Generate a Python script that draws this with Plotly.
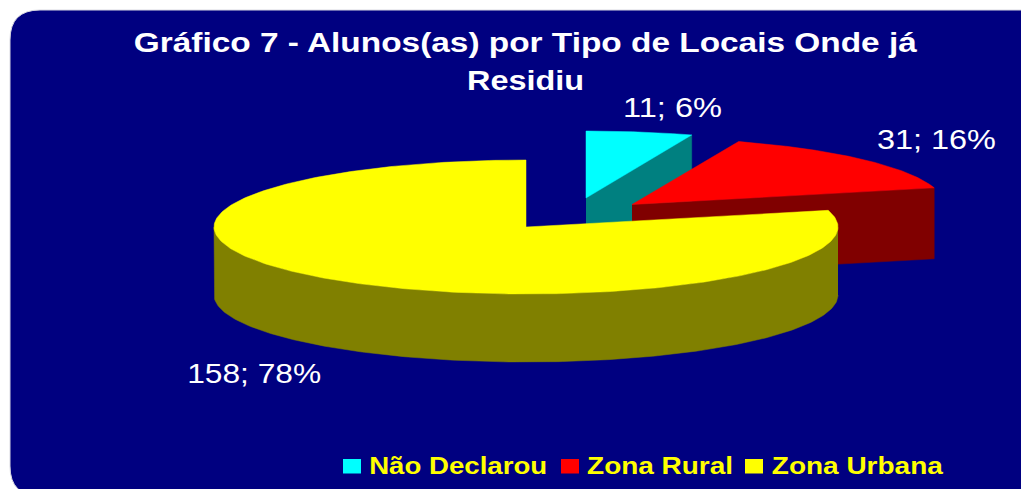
import json
import numpy as np
import plotly.graph_objects as go

# Data
categories = ["Não Declarou", "Zona Rural", "Zona Urbana"]
values = [11, 31, 158]
percent_labels = [6, 16, 78]
title_lines = ["Gráfico 7 - Alunos(as) por Tipo de Locais Onde já", "Residiu"]

top_colors = ["#00FFFF", "#FF0000", "#FFFF00"]
side_colors = ["#008080", "#800000", "#808000"]
NAVY = "#000080"

# Pixel-space view geometry of the tilted, exploded pie.
# The page has an 8 px body margin, so the figure covers 8..1029 and 8..489.
W, H, PAGE_MARGIN = 1029, 489, 8
RX, RY = 312, 67
centers = [(586, 198), (632, 204.5), (526, 227)]
depths = [68, 71, 68]
label_pos = [(672.5, 107), (936.5, 139), (254, 373)]
label_widths = [99, 119, 134]
title_widths = [783, 117]
legend_swatch_x = [343, 561, 745]
legend_text_x = [458, 660, 857.5]
legend_widths = [178, 146, 171]

total = sum(values)
cum = np.cumsum([0] + values) / total * 2 * np.pi


def pt(c, th, dy=0.0):
    return c[0] + RX * np.sin(th), c[1] - RY * np.cos(th) + dy


fig = go.Figure()


def poly(xs, ys, color, name):
    fig.add_trace(go.Scatter(x=xs, y=ys, mode="lines", fill="toself", fillcolor=color,
                             line=dict(color=color, width=0.5), name=name,
                             hoverinfo="name", showlegend=False))


for i, name in enumerate(categories):
    a, b = cum[i], cum[i + 1]
    c, d = centers[i], depths[i]
    # extruded side: the cut face and any front-facing part of the rim
    if i < 2:
        xe, ye = pt(c, b)
        poly([c[0], xe, xe, c[0]], [c[1], ye, ye + d, c[1] + d], side_colors[i], name)
    lo, hi = max(a, np.pi / 2), min(b, 3 * np.pi / 2)
    if hi > lo:
        th = np.linspace(lo, hi, 200)
        x1, y1 = pt(c, th)
        x2, y2 = pt(c, th[::-1], d)
        poly(np.r_[x1, x2], np.r_[y1, y2], side_colors[i], name)
    # top face
    th = np.linspace(a, b, 300)
    x1, y1 = pt(c, th)
    poly(np.r_[c[0], x1, c[0]], np.r_[c[1], y1, c[1]], top_colors[i], name)

annotations = []
for i, (x, y) in enumerate(label_pos):
    annotations.append(dict(x=x, y=y, text=f"{values[i]}; {percent_labels[i]}%", showarrow=False,
                            xref="x", yref="y", xanchor="center", yanchor="middle",
                            font=dict(family="Liberation Sans", size=28, color="#FFFFFF")))
for line, y in zip(title_lines, [42, 80]):
    annotations.append(dict(x=525.5, y=y, text=f"<b>{line}</b>", showarrow=False, xref="x", yref="y",
                            xanchor="center", yanchor="middle",
                            font=dict(family="Liberation Sans", size=28, color="#FFFFFF")))
shapes = [dict(type="path", layer="below", xref="x", yref="y",
               path="M 10 40 Q 10 10 40 10 L 1060 10 L 1060 496 L 40 496 Q 10 496 10 466 Z",
               fillcolor=NAVY, line=dict(color="#D8D8E0", width=1))]
for i, name in enumerate(categories):
    x0 = legend_swatch_x[i]
    shapes.append(dict(type="rect", xref="x", yref="y", x0=x0, x1=x0 + 18, y0=459, y1=473.5,
                       fillcolor=top_colors[i], line=dict(width=0)))
    annotations.append(dict(x=legend_text_x[i], y=466, text=f"<b>{name}</b>", showarrow=False,
                            xref="x", yref="y", xanchor="center", yanchor="middle",
                            font=dict(family="Liberation Sans", size=23, color="#FFFF00")))

fig.update_layout(width=W - PAGE_MARGIN, height=H - PAGE_MARGIN,
                  margin=dict(l=0, r=0, t=0, b=0), autosize=False,
                  paper_bgcolor="#FFFFFF", plot_bgcolor="#FFFFFF", showlegend=False,
                  xaxis=dict(range=[PAGE_MARGIN, W], visible=False, fixedrange=True),
                  yaxis=dict(range=[H, PAGE_MARGIN], visible=False, fixedrange=True),
                  shapes=shapes, annotations=annotations)
# The reference text is stretched horizontally: fit each string to its measured width.
text_widths = label_widths + title_widths + legend_widths
post = ("var w=" + json.dumps(text_widths) + ";"
        "document.querySelectorAll('.annotation-text').forEach(function(t,i){"
        "var e=t.querySelector('tspan')||t;"
        "e.setAttribute('textLength',w[i]);e.setAttribute('lengthAdjust','spacingAndGlyphs');});")
fig.write_html("out.html", config={"displayModeBar": False}, post_script=post)
